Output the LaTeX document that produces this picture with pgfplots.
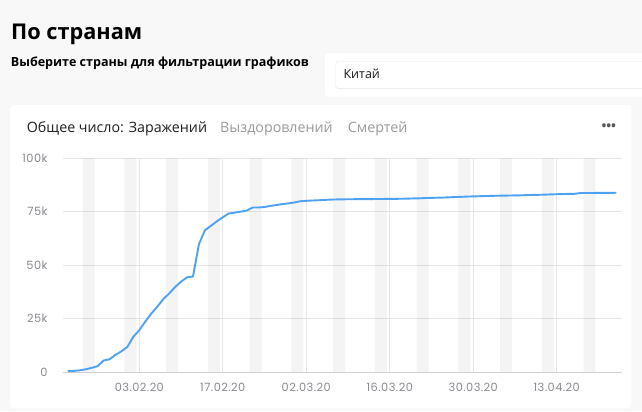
\documentclass[border=0pt]{standalone}
\usepackage{fontspec}
\setmainfont{Open Sans}
\newfontfamily\tickfont[LetterSpace=4]{Poppins}
\usepackage{pgfplots}
\usepackage{pgfplotstable}
\pgfplotsset{compat=1.18}
\definecolor{bg}{HTML}{F8F8F8}
\definecolor{gridc}{HTML}{E6E6E6}
\definecolor{axisc}{HTML}{D0D0D0}
\definecolor{tickc}{HTML}{8C8A90}
\definecolor{linec}{HTML}{4DA2F1}
\definecolor{tabgray}{HTML}{9A9A9A}
\definecolor{boxc}{HTML}{E4E4E4}

\pgfplotstableread{
day cases
-12 548
-11 643
-10 920
-9 1406
-8 2075
-7 2877
-6 5509
-5 6087
-4 8141
-3 9802
-2 11891
-1 16630
0 19716
1 23707
2 27440
3 30587
4 34110
5 36814
6 39829
7 42354
8 44386
9 44759
10 59895
11 66358
12 68413
13 70513
14 72434
15 74211
16 74619
17 75077
18 75550
19 77001
20 77022
21 77241
22 77754
23 78166
24 78600
25 78928
26 79356
27 79932
28 80136
29 80261
30 80386
31 80537
32 80690
33 80770
34 80823
35 80860
36 80887
37 80921
38 80932
39 80945
40 80977
41 81003
42 81033
43 81058
44 81102
45 81156
46 81250
47 81305
48 81435
49 81498
50 81591
51 81661
52 81782
53 81897
54 81999
55 82122
56 82198
57 82279
58 82361
59 82432
60 82511
61 82543
62 82602
63 82665
64 82718
65 82809
66 82883
67 82941
68 83014
69 83134
70 83213
71 83306
72 83356
73 83403
74 83760
75 83787
76 83805
77 83817
78 83853
79 83868
80 83884
}\chinadata

\pgfplotstableread{
wx wtop
-9.5 100000
-7.5 0
-2.5 100000
-0.5 0
4.5 100000
6.5 0
11.5 100000
13.5 0
18.5 100000
20.5 0
25.5 100000
27.5 0
32.5 100000
34.5 0
39.5 100000
41.5 0
46.5 100000
48.5 0
53.5 100000
55.5 0
60.5 100000
62.5 0
67.5 100000
69.5 0
74.5 100000
76.5 0
}\weekends

\begin{document}
\begin{tikzpicture}[x=1bp,y=1bp]
\useasboundingbox (0,0) rectangle (642,411);
\fill[bg] (0,0) rectangle (642,411);
% title
\node[anchor=base west, inner sep=0, font=\bfseries\fontsize{21.8}{26}\selectfont] at (11,371.7) {По странам};
\node[anchor=base west, inner sep=0, font=\bfseries\fontsize{12.6}{15}\selectfont] at (10.7,344.3) {Выберите страны для фильтрации графиков};
% dropdown
\fill[white, rounded corners=2bp] (325,314.3) rectangle (660,357.7);
\draw[boxc, fill=white, rounded corners=2bp] (335.7,322.7) rectangle (660,349.3);
\node[anchor=base west, inner sep=0, font=\fontsize{12.6}{15}\selectfont, text=black!90] at (343.3,332.7) {Китай};
% card
\fill[white, rounded corners=4bp] (10,2.7) rectangle (631.7,306);
\node[anchor=base west, inner sep=0, font=\fontsize{14.3}{18}\selectfont, text=black!88] at (26.7,278.7) {Общее число: Заражений};
\node[anchor=base west, inner sep=0, font=\fontsize{14.3}{18}\selectfont, text=tabgray] at (220,278.7) {Выздоровлений};
\node[anchor=base west, inner sep=0, font=\fontsize{14.3}{18}\selectfont, text=tabgray] at (347.7,278.7) {Смертей};
\node[anchor=center, inner sep=0, font=\bfseries\fontsize{13}{15}\selectfont, text=black!65] at (608.8,284.3) {•••};
\begin{axis}[
  at={(62.7bp,38.7bp)}, anchor=south west,
  scale only axis, width=559bp, height=214bp,
  xmin=-12.85, xmax=80.9, ymin=0, ymax=100000,
  axis line style={draw=none},
  major tick length=0pt,
  xtick={0,14,28,42,56,70},
  xticklabels={03.02.20,17.02.20,02.03.20,16.03.20,30.03.20,13.04.20},
  ytick={0,25000,50000,75000,100000},
  yticklabels={0,25k,50k,75k,100k},
  scaled y ticks=false,
  xmajorgrids, ymajorgrids,
  major grid style={draw=gridc, line width=0.9bp},
  ticklabel style={font=\tickfont\fontsize{11.4}{13}\selectfont, text=tickc, inner sep=0pt},
  xticklabel style={anchor=base, yshift=-19.4bp},
  yticklabel style={anchor=east, xshift=-15bp},
]
\addplot[const plot, fill=black, fill opacity=0.045, draw=none] table[x=wx, y=wtop] {\weekends} \closedcycle;
\addplot[axisc, line width=1bp, mark=none] coordinates {(-12.85,0) (80.9,0)};
\addplot[linec, line width=1.9bp, line join=round, mark=none] table[x=day, y=cases] {\chinadata};
\end{axis}
\end{tikzpicture}
\end{document}
